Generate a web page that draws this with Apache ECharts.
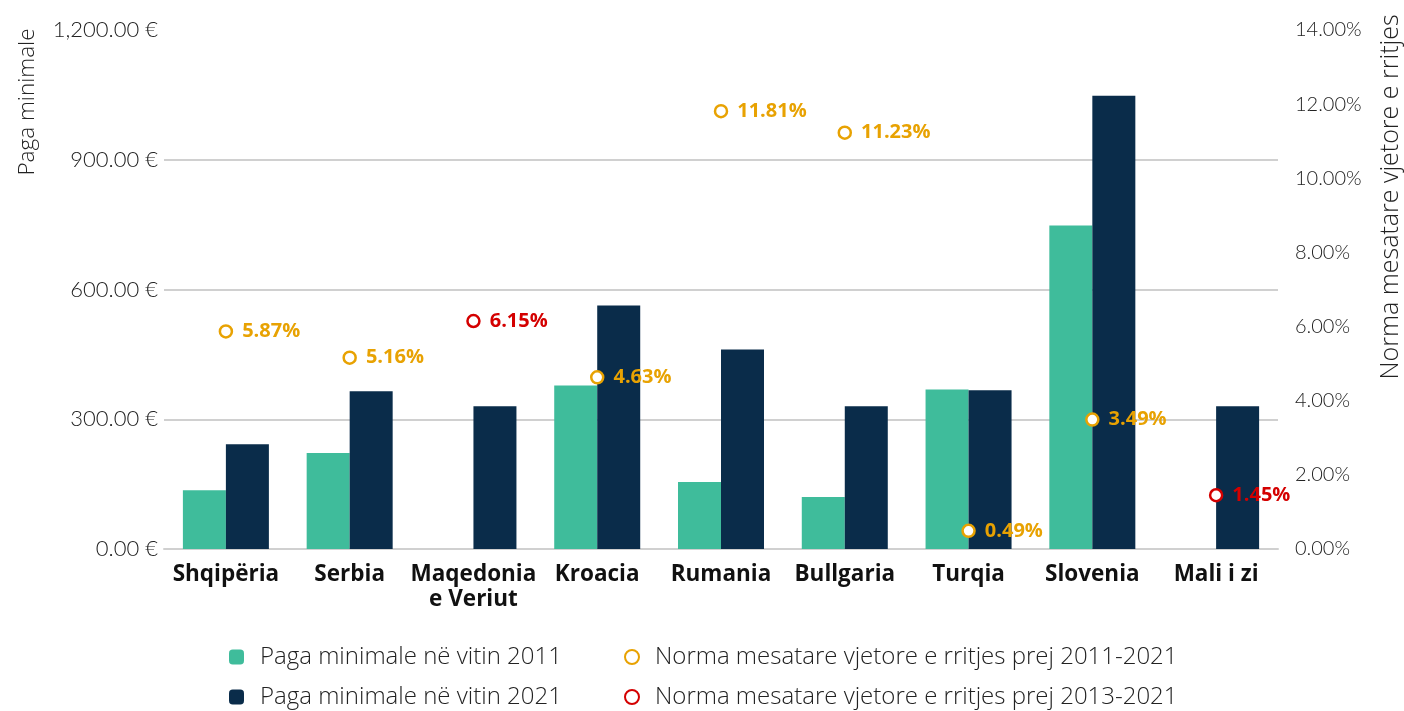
<!DOCTYPE html>
<html><head><meta charset="utf-8">
<script src="https://cdn.jsdelivr.net/npm/echarts@6/dist/echarts.min.js"></script>
<style>html,body{margin:0;padding:0;background:#fff}#c{width:1404px;height:711px}</style>
</head><body><div id="c"></div>
<script>
const categories = ['Shqipëria','Serbia','Maqedonia\ne Veriut','Kroacia','Rumania','Bullgaria','Turqia','Slovenia','Mali i zi'];
const wage2011 = [136, 222, null, 378, 155, 120, 369, 748, null];
const wage2021 = [242, 365, 330, 563, 461, 330, 367, 1048, 330];
const growth2011_2021 = [5.87, 5.16, null, 4.63, 11.81, 11.23, 0.49, 3.49, null];
const growth2013_2021 = [null, null, 6.15, null, null, null, null, null, 1.45];
const leftTicks = [0, 300, 600, 900, 1200];
const rightTicks = [0, 2, 4, 6, 8, 10, 12, 14];
const gridValues = [300, 600, 900];
const names = ['Paga minimale në vitin 2011','Paga minimale në vitin 2021','Norma mesatare vjetore e rritjes prej 2011-2021','Norma mesatare vjetore e rritjes prej 2013-2021'];

const FONT = 'Lato';
const BOLD = 'Open Sans';
const LIGHT = 'Open Sans';
const chart = echarts.init(document.getElementById('c'));
const pctLabel = (color) => ({
  show: true, position: 'right', distance: 9, color: color, fontFamily: BOLD,
  fontWeight: 'bold', fontSize: 20,
  formatter: p => p.value == null ? '' : Number(p.value).toFixed(2) + '%'
});
const legendText = { fontFamily: LIGHT, fontSize: 24, fontWeight: 300, color: '#222', lineHeight: 26, padding: [0,0,0,11] };
chart.setOption({
  animation: false,
  textStyle: { fontFamily: FONT },
  grid: { left: 164, right: 126, top: 30, bottom: 162 },
  legend: [
    { left: 229, top: 644, orient: 'vertical', padding: 0, itemGap: 14, itemWidth: 15, itemHeight: 15,
      textStyle: legendText, data: [names[0], names[1]] },
    { left: 624, top: 644, orient: 'vertical', padding: 0, itemGap: 14, itemWidth: 14, itemHeight: 14,
      textStyle: legendText, data: [names[2], names[3]] }
  ],
  graphic: [
    { type: 'text', x: 28, y: 102, rotation: Math.PI / 2,
      style: { text: 'Paga minimale', font: '300 22.5px "Open Sans"', fill: '#222', align: 'center', verticalAlign: 'middle' } },
    { type: 'text', x: 1391, y: 197, rotation: Math.PI / 2,
      style: { text: 'Norma mesatare vjetore e rritjes', font: '300 25px "Open Sans"', fill: '#222', align: 'center', verticalAlign: 'middle' } }
  ],
  xAxis: {
    type: 'category', data: categories,
    axisLine: { lineStyle: { color: '#d0d0d0', width: 2 } },
    axisTick: { show: false },
    axisLabel: { color: '#111', fontFamily: BOLD, fontWeight: 'bold', fontSize: 22.5, margin: 13, lineHeight: 25, interval: 0 }
  },
  yAxis: [
    { type: 'value', min: leftTicks[0], max: leftTicks[leftTicks.length-1], interval: 300,
      axisLine: { show: false }, axisTick: { show: false }, splitLine: { show: false },
      axisLabel: { color: '#222', fontSize: 22, fontWeight: 300, margin: 6,
        formatter: v => v.toLocaleString('en-US', { minimumFractionDigits: 2, maximumFractionDigits: 2 }) + ' €' } },
    { type: 'value', min: rightTicks[0], max: rightTicks[rightTicks.length-1], interval: 2,
      axisLine: { show: false }, axisTick: { show: false }, splitLine: { show: false },
      axisLabel: { color: '#222', fontSize: 20, fontWeight: 300, margin: 17, formatter: v => v.toFixed(2) + '%' } }
  ],
  series: [
    { name: names[0], type: 'bar', data: wage2011, barWidth: 43, barGap: '0%',
      itemStyle: { color: '#3FBC9B' },
      markLine: { silent: true, symbol: 'none', label: { show: false },
        lineStyle: { color: '#d0d0d0', width: 2, type: 'solid' },
        data: gridValues.map(v => ({ yAxis: v })), z: 0 } },
    { name: names[1], type: 'bar', data: wage2021, barWidth: 43, itemStyle: { color: '#0A2C4A' } },
    { name: names[2], type: 'scatter', yAxisIndex: 1, data: growth2011_2021, symbol: 'circle', symbolSize: 12, z: 5,
      itemStyle: { color: '#fff', borderColor: '#E8A202', borderWidth: 2.5, opacity: 1 },
      label: pctLabel('#E8A202') },
    { name: names[3], type: 'scatter', yAxisIndex: 1, data: growth2013_2021, symbol: 'circle', symbolSize: 12, z: 5,
      itemStyle: { color: '#fff', borderColor: '#D40000', borderWidth: 2.5, opacity: 1 },
      label: pctLabel('#D40000') }
  ]
});
</script></body></html>
